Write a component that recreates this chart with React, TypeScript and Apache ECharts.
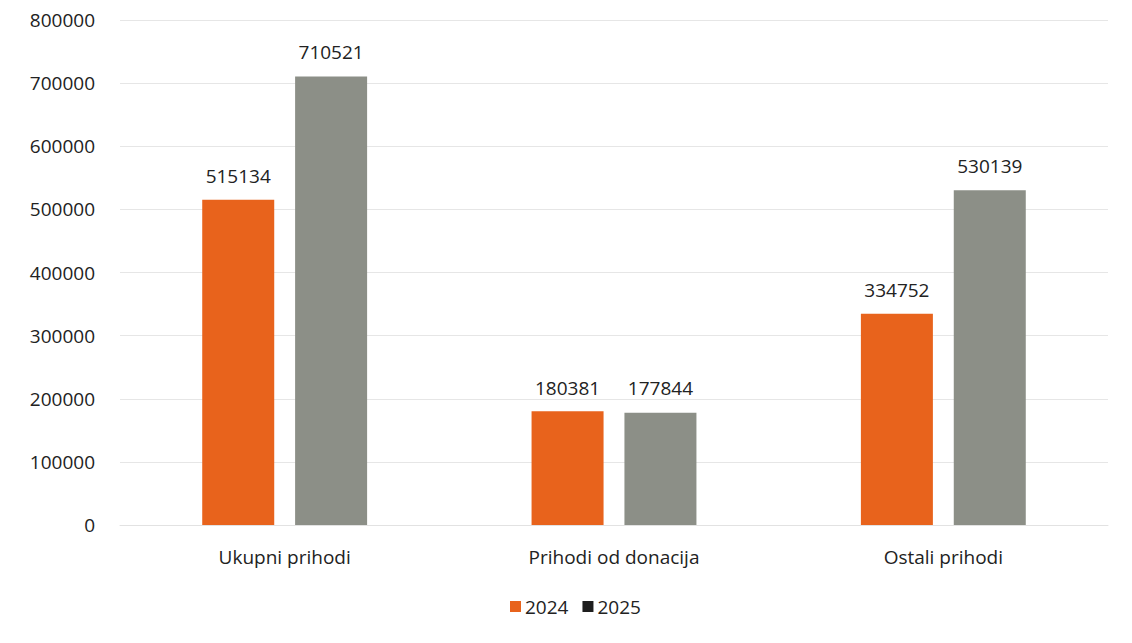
import React, { useEffect, useRef } from "react";
import * as echarts from "echarts";

const categories = ["Ukupni prihodi", "Prihodi od donacija", "Ostali prihodi"];
const values2024 = [515134, 180381, 334752];
const values2025 = [710521, 177844, 530139];
const seriesNames = ["2024", "2025"];
const yTicks = [0, 100000, 200000, 300000, 400000, 500000, 600000, 700000, 800000];

const ORANGE = "#E8631C";
const GRAY = "#8C8F87";
const FONT = "'Open Sans', 'Liberation Sans', sans-serif";
const FS = 19;

export default function App() {
  const ref = useRef<HTMLDivElement>(null);
  useEffect(() => {
    if (!ref.current) return;
    const chart = echarts.init(ref.current, null, { renderer: "svg" });
    chart.setOption({
      animation: false,
      backgroundColor: "#ffffff",
      textStyle: { fontFamily: FONT },
      grid: { left: 120, right: 24, top: 20, bottom: 118 },
      legend: {
        bottom: 22,
        left: 505,
        itemWidth: 11,
        itemHeight: 11,
        itemGap: 14,
        icon: "rect",
        textStyle: { fontSize: FS, color: "#222", fontFamily: FONT, padding: [0, 0, 0, -1] },
        data: [
          { name: seriesNames[0], itemStyle: { color: ORANGE } },
          { name: seriesNames[1], itemStyle: { color: "#1e1e1e" } },
        ],
      },
      xAxis: {
        type: "category",
        data: categories,
        axisLine: { show: true, lineStyle: { color: "#e2e2e2", width: 1 } },
        axisTick: { show: false },
        axisLabel: { fontSize: FS, color: "#222", margin: 22, fontFamily: FONT },
      },
      yAxis: {
        type: "value",
        min: yTicks[0],
        max: yTicks[yTicks.length - 1],
        interval: 100000,
        axisLine: { show: false },
        axisTick: { show: false },
        splitLine: { lineStyle: { color: "#e6e6e6", width: 1 } },
        axisLabel: {
          fontSize: FS,
          color: "#222",
          margin: 25,
          fontFamily: FONT,
          formatter: (v: number) => String(v),
        },
      },
      series: [
        {
          name: seriesNames[0],
          type: "bar",
          data: values2024,
          barWidth: 72,
          barGap: "29%",
          itemStyle: { color: ORANGE },
          label: { show: true, position: "top", distance: 14, fontSize: FS, color: "#222", fontFamily: FONT },
        },
        {
          name: seriesNames[1],
          type: "bar",
          data: values2025,
          barWidth: 72,
          barGap: "29%",
          itemStyle: { color: GRAY },
          label: { show: true, position: "top", distance: 15, fontSize: FS, color: "#222", fontFamily: FONT },
        },
      ],
    });
    return () => chart.dispose();
  }, []);
  return <div ref={ref} style={{ width: 1132, height: 643, position: "absolute", left: 0, top: 0 }} />;
}
